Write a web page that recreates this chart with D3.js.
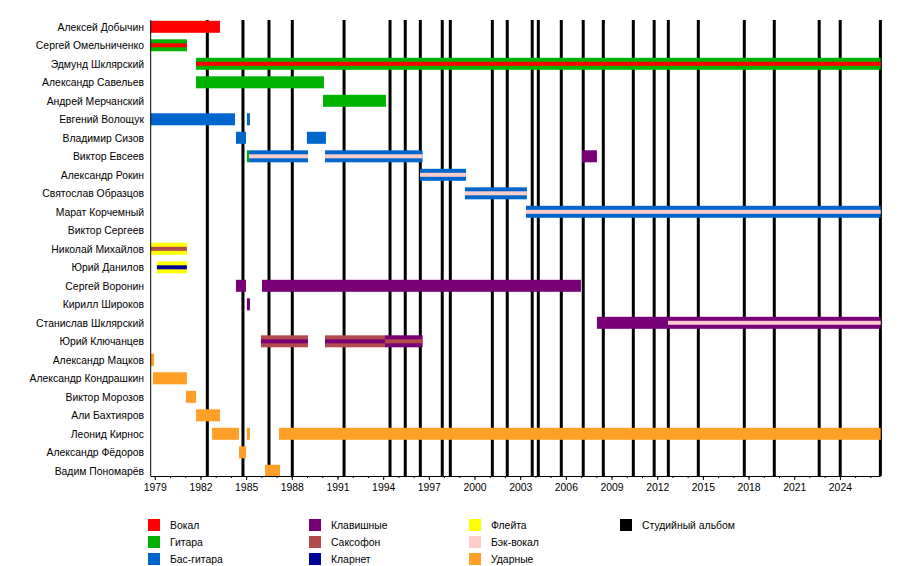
<!DOCTYPE html>
<html>
<head>
<meta charset="utf-8">
<script src="https://cdn.jsdelivr.net/npm/d3@7"></script>
<style>
  body { margin: 0; background: #fff; }
  svg { font-family: "Liberation Sans", Arial, sans-serif; }
</style>
</head>
<body>
<svg width="900" height="566"></svg>
<script>
var START = 1978.73, END = 2026.68;

var members = ["Алексей Добычин", "Сергей Омельниченко", "Эдмунд Шклярский", "Александр Савельев",
  "Андрей Мерчанский", "Евгений Волощук", "Владимир Сизов", "Виктор Евсеев", "Александр Рокин",
  "Святослав Образцов", "Марат Корчемный", "Виктор Сергеев", "Николай Михайлов", "Юрий Данилов",
  "Сергей Воронин", "Кирилл Широков", "Станислав Шклярский", "Юрий Ключанцев", "Александр Мацков",
  "Александр Кондрашкин", "Виктор Морозов", "Али Бахтияров", "Леонид Кирнос", "Александр Фёдоров",
  "Вадим Пономарёв"];

var roles = ["vocal", "guitar", "bass", "keys", "sax", "clarinet", "flute", "backing", "drums", "album"];
var roleLabels = ["Вокал", "Гитара", "Бас-гитара", "Клавишные", "Саксофон", "Кларнет",
  "Флейта", "Бэк-вокал", "Ударные", "Студийный альбом"];
var roleColors = ["#ff0000", "#00b200", "#0066cc", "#770077", "#b24c4c", "#000099",
  "#ffff00", "#ffcccc", "#ff9f26", "#000000"];

// main bars: member, role, from, till
var periods = [
  ["Алексей Добычин", "vocal", START, 1983.28],
  ["Сергей Омельниченко", "guitar", START, 1981.11],
  ["Эдмунд Шклярский", "guitar", 1981.71, END],
  ["Александр Савельев", "guitar", 1981.71, 1990.11],
  ["Андрей Мерчанский", "guitar", 1990.05, 1994.18],
  ["Евгений Волощук", "bass", START, 1984.27],
  ["Евгений Волощук", "bass", 1985.05, 1985.25],
  ["Владимир Сизов", "bass", 1984.33, 1984.99],
  ["Владимир Сизов", "bass", 1988.99, 1990.24],
  ["Виктор Евсеев", "guitar", 1985.05, 1985.19],
  ["Виктор Евсеев", "bass", 1985.19, 1989.06],
  ["Виктор Евсеев", "bass", 1990.18, 1996.59],
  ["Виктор Евсеев", "keys", 2007.06, 2008.04],
  ["Александр Рокин", "bass", 1996.42, 1999.44],
  ["Святослав Образцов", "bass", 1999.37, 2003.44],
  ["Марат Корчемный", "bass", 2003.38, END],
  ["Николай Михайлов", "flute", START, 1981.11],
  ["Юрий Данилов", "flute", 1979.14, 1981.11],
  ["Сергей Воронин", "keys", 1984.33, 1984.99],
  ["Сергей Воронин", "keys", 1986.04, 2006.99],
  ["Кирилл Широков", "keys", 1985.05, 1985.25],
  ["Станислав Шклярский", "keys", 2008.04, END],
  ["Юрий Ключанцев", "sax", 1985.97, 1989.06],
  ["Юрий Ключанцев", "sax", 1990.18, 1994.12],
  ["Юрий Ключанцев", "keys", 1994.12, 1996.59],
  ["Александр Мацков", "drums", START, 1978.95],
  ["Александр Кондрашкин", "drums", 1978.88, 1981.11],
  ["Виктор Морозов", "drums", 1981.05, 1981.71],
  ["Али Бахтияров", "drums", 1981.71, 1983.28],
  ["Леонид Кирнос", "drums", 1982.76, 1984.53],
  ["Леонид Кирнос", "drums", 1985.05, 1985.25],
  ["Леонид Кирнос", "drums", 1987.16, END],
  ["Александр Фёдоров", "drums", 1984.53, 1984.99],
  ["Вадим Пономарёв", "drums", 1986.24, 1987.22]
];

// thin inner stripes: member, role, from, till
var stripes = [
  ["Сергей Омельниченко", "vocal", START, 1981.11],
  ["Эдмунд Шклярский", "vocal", 1981.71, END],
  ["Виктор Евсеев", "backing", 1985.19, 1989.06],
  ["Виктор Евсеев", "backing", 1990.18, 1996.59],
  ["Александр Рокин", "backing", 1996.42, 1999.44],
  ["Святослав Образцов", "backing", 1999.37, 2003.44],
  ["Марат Корчемный", "backing", 2003.38, END],
  ["Николай Михайлов", "sax", START, 1981.11],
  ["Юрий Данилов", "clarinet", 1979.14, 1981.11],
  ["Станислав Шклярский", "backing", 2012.71, END],
  ["Юрий Ключанцев", "keys", 1985.97, 1989.06],
  ["Юрий Ключанцев", "keys", 1990.18, 1994.12],
  ["Юрий Ключанцев", "sax", 1994.12, 1996.59]
];

var albums = [1982.45, 1984.79, 1986.50, 1988.03, 1991.43, 1994.45, 1995.45, 1996.44, 1997.88,
  1998.41, 2001.17, 2002.15, 2003.79, 2004.19, 2005.70, 2007.14, 2008.46, 2010.43, 2011.80,
  2012.73, 2014.70, 2017.72, 2019.69, 2022.64, 2024.02, 2026.66];

var majorTicks = d3.range(1979, 2027, 3);
var minorTicks = d3.range(1979, 2027, 1);

var plotTop = 20, plotBottom = 476;
var fontSize = 10.4;

var svg = d3.select("svg");

var x = d3.scaleLinear().domain([START, END]).range([150.7, 880.7]);
var y = d3.scalePoint().domain(members).range([26.8, 470.8]);
var color = d3.scaleOrdinal().domain(roles).range(roleColors);

// album lines (behind bars)
svg.append("g")
   .selectAll("rect")
   .data(albums)
   .enter()
   .append("rect")
   .attr("x", function(d) { return x(d) - 1.5; })
   .attr("y", plotTop)
   .attr("width", 3)
   .attr("height", plotBottom - plotTop)
   .attr("fill", color("album"));

// member bars
svg.append("g")
   .selectAll("rect")
   .data(periods)
   .enter()
   .append("rect")
   .attr("x", function(d) { return x(d[2]); })
   .attr("y", function(d) { return y(d[0]) - 6; })
   .attr("width", function(d) { return x(d[3]) - x(d[2]); })
   .attr("height", 12)
   .attr("fill", function(d) { return color(d[1]); });

svg.append("g")
   .selectAll("rect")
   .data(stripes)
   .enter()
   .append("rect")
   .attr("x", function(d) { return x(d[2]); })
   .attr("y", function(d) { return y(d[0]) - 2; })
   .attr("width", function(d) { return x(d[3]) - x(d[2]); })
   .attr("height", 4)
   .attr("fill", function(d) { return color(d[1]); });

// names
svg.append("g")
   .selectAll("text")
   .data(members)
   .enter()
   .append("text")
   .attr("x", 144)
   .attr("y", function(d) { return y(d) + 0.5; })
   .attr("dy", "0.35em")
   .attr("text-anchor", "end")
   .attr("font-size", fontSize)
   .attr("fill", "#000")
   .text(function(d) { return d; });

// left axis line
svg.append("line")
   .attr("x1", x(START)).attr("x2", x(START))
   .attr("y1", plotTop).attr("y2", plotBottom)
   .attr("stroke", "#000");

// bottom axis
var minorAxis = d3.axisBottom(x).tickValues(minorTicks).tickSize(2).tickFormat("");
var majorAxis = d3.axisBottom(x).tickValues(majorTicks).tickSize(4).tickPadding(4)
                  .tickFormat(d3.format("d"));

svg.append("g")
   .attr("transform", "translate(0," + plotBottom + ")")
   .call(minorAxis)
   .call(function(g) { g.select(".domain").remove(); });

var axisG = svg.append("g")
   .attr("transform", "translate(0," + plotBottom + ")")
   .call(majorAxis);
axisG.select(".domain").attr("d", "M" + x(START) + ",0.5H" + x(END));
axisG.selectAll("text").attr("font-size", fontSize).attr("font-family", "Liberation Sans, Arial, sans-serif");

// legend
var legendCols = [148, 309, 469, 620];
var legendRows = [519, 536, 553];
var legend = svg.append("g")
   .selectAll("g")
   .data(roles)
   .enter()
   .append("g")
   .attr("transform", function(d, i) {
     var c = Math.floor(i / 3), r = i % 3;
     return "translate(" + legendCols[c] + "," + legendRows[r] + ")";
   });

legend.append("rect")
   .attr("width", 12)
   .attr("height", 12)
   .attr("fill", function(d) { return color(d); });

legend.append("text")
   .attr("x", 22)
   .attr("y", 6.5)
   .attr("dy", "0.35em")
   .attr("font-size", fontSize)
   .attr("fill", "#000")
   .text(function(d, i) { return roleLabels[i]; });
</script>
</body>
</html>
